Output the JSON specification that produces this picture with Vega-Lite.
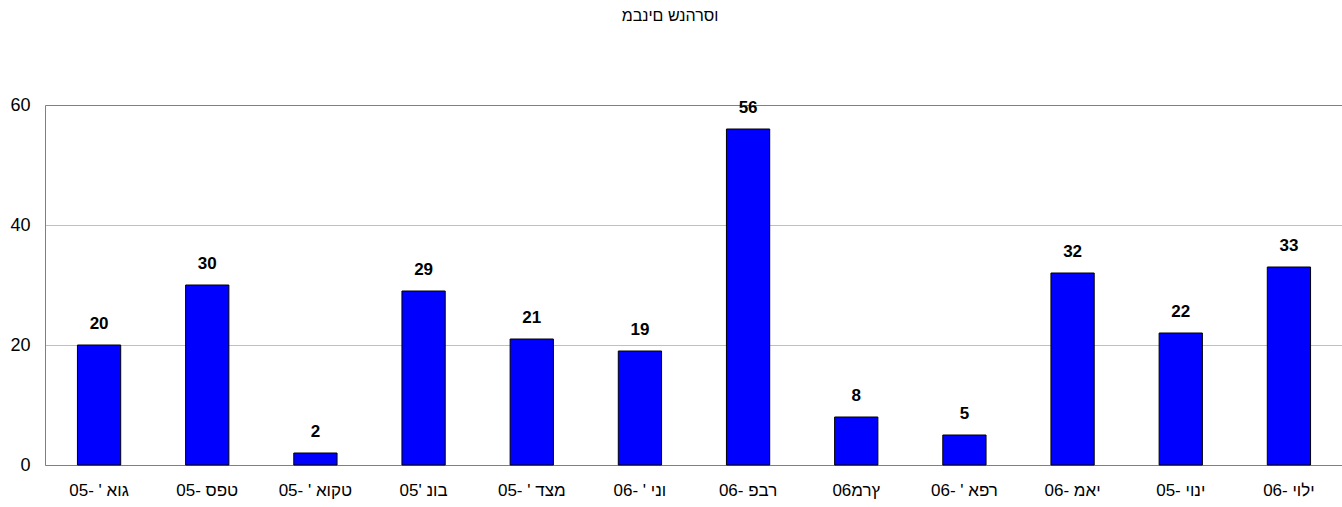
{
  "$schema": "https://vega.github.io/schema/vega-lite/v6.json",
  "width": 1298,
  "height": 360,
  "autosize": "none",
  "padding": {"left": 45, "top": 105, "right": 0, "bottom": 42},
  "background": "white",
  "config": {"view": {"stroke": null}, "font": "Liberation Sans"},
  "title": {"text": "וסרהנש םינבמ", "fontSize": 16, "fontWeight": "normal", "font": "Liberation Sans", "color": "#000000", "offset": 72, "dx": -24, "anchor": "middle"},
  "data": {"values": [
    {"month": "גוא ' -05", "count": 20},
    {"month": "טפס -05", "count": 30},
    {"month": "טקוא ' -05", "count": 2},
    {"month": "בונ '05", "count": 29},
    {"month": "מצד ' -05", "count": 21},
    {"month": "וני ' -06", "count": 19},
    {"month": "רבפ -06", "count": 56},
    {"month": "ץרמ06", "count": 8},
    {"month": "רפא ' -06", "count": 5},
    {"month": "יאמ -06", "count": 32},
    {"month": "ינוי -05", "count": 22},
    {"month": "ילוי -06", "count": 33}
  ]},
  "encoding": {
    "x": {"field": "month", "type": "nominal", "sort": null,
      "scale": {"paddingInner": 0.6, "paddingOuter": 0.3},
      "axis": {"title": null, "labelAngle": 0, "ticks": false, "labelPadding": 17, "labelFontSize": 17, "labelColor": "#000000", "domainColor": "#808080", "grid": false, "labelFont": "Liberation Sans"}},
    "y": {"field": "count", "type": "quantitative",
      "scale": {"domain": [0, 60], "nice": false},
      "axis": {"title": null, "values": [0, 20, 40, 60], "ticks": false, "labelPadding": 15, "labelFontSize": 18, "labelColor": "#000000", "domainColor": "#808080", "grid": true,
        "gridColor": {"condition": {"test": "datum.value === 60", "value": "#808080"}, "value": "#c0c0c0"}, "labelFont": "Liberation Sans"}}
  },
  "layer": [
    {"mark": {"type": "bar", "color": "#0000ff", "stroke": "#000000", "strokeWidth": 1}},
    {"mark": {"type": "text", "baseline": "bottom", "dy": -12, "fontWeight": "bold", "fontSize": 17, "font": "Liberation Sans", "color": "#000000"},
      "encoding": {"text": {"field": "count", "type": "quantitative"}}}
  ]
}
